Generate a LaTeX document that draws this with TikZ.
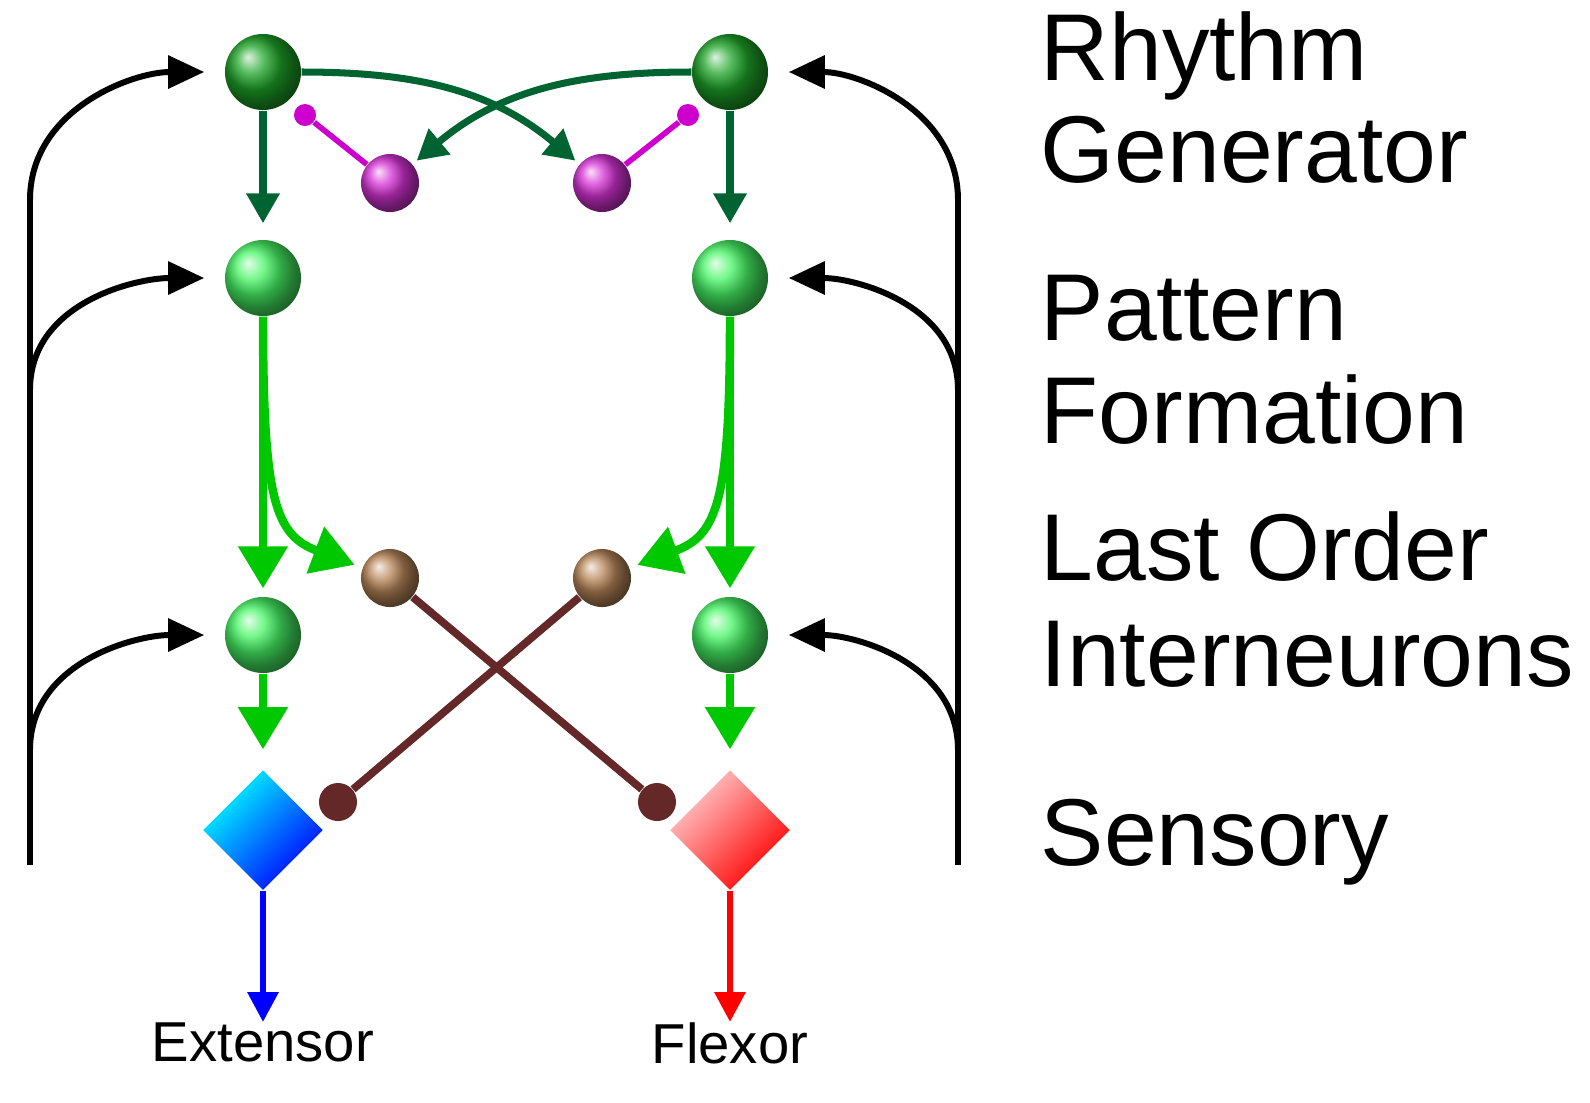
\documentclass[tikz,border=0pt]{standalone}
\usepackage{fontspec}
\setmainfont{Liberation Sans}
\usetikzlibrary{arrows.meta,shapes.geometric,positioning}
\definecolor{rgcol}{RGB}{30,165,40}
\definecolor{rgline}{RGB}{0,100,50}
\definecolor{pfcol}{RGB}{70,245,100}
\definecolor{pfline}{RGB}{0,200,0}
\definecolor{pucol}{RGB}{205,0,205}
\definecolor{brcol}{RGB}{185,135,90}
\definecolor{brline}{RGB}{100,40,40}
\begin{document}
\begin{tikzpicture}[x=0.01cm,y=0.01cm]
\tikzset{rg/.style={circle, ball color=rgcol, minimum size=0.76cm, inner sep=0},
  pf/.style={circle, ball color=pfcol, minimum size=0.76cm, inner sep=0},
  pu/.style={circle, ball color=pucol!80, minimum size=0.58cm, inner sep=0},
  br/.style={circle, ball color=brcol, minimum size=0.58cm, inner sep=0},
  pudot/.style={circle, fill=pucol, minimum size=0.22cm, inner sep=0},
  brdot/.style={circle, fill=brline, minimum size=0.38cm, inner sep=0},
  lab/.style={anchor=base west, font=\fontsize{27}{30}\selectfont, inner sep=0},
  dkarr/.style={draw=rgline, line width=2pt, -{Triangle[width=0.32cm,length=0.3cm]}},
  grarr/.style={draw=pfline, line width=2.4pt, -{Triangle[width=0.48cm,length=0.42cm]}},
  fbarr/.style={draw=black, line width=1.7pt, -{Triangle[width=0.32cm,length=0.36cm]}}}
\useasboundingbox (0,-1102) rectangle (1590,0);
% neurons
\node[rg](rgL) at (263,-72) {};
\node[rg](rgR) at (730,-72) {};
\node[pu](puL) at (390,-183) {};
\node[pu](puR) at (602,-183) {};
\node[pudot](pdL) at (305,-115) {};
\node[pudot](pdR) at (688,-115) {};
\node[pf](pfL) at (263,-278) {};
\node[pf](pfR) at (730,-278) {};
\node[pf](loL) at (263,-635) {};
\node[pf](loR) at (730,-635) {};
\node[br](brL) at (390,-578) {};
\node[br](brR) at (602,-578) {};
\node[brdot](bdL) at (338,-802) {};
\node[brdot](bdR) at (657,-802) {};
\node[diamond, minimum width=1.2cm, minimum height=1.2cm, inner sep=0,
  shading=axis, top color=cyan, bottom color=blue, shading angle=45](mE) at (263,-830) {};
\node[diamond, minimum width=1.2cm, minimum height=1.2cm, inner sep=0,
  shading=axis, top color=red!20, bottom color=red, shading angle=45](mF) at (730,-830) {};
\node[font=\fontsize{16}{18}\selectfont, anchor=north, inner sep=0](exL) at (263,-1022) {Extensor};
\node[font=\fontsize{16}{18}\selectfont, anchor=north, inner sep=0](flL) at (730,-1022) {Flexor};
% labels
\node[lab] at (1040,-80) {Rhythm};
\node[lab] at (1040,-182) {Generator};
\node[lab] at (1040,-340) {Pattern};
\node[lab] at (1040,-443) {Formation};
\node[lab] at (1040,-580) {Last Order};
\node[lab] at (1040,-686) {Interneurons};
\node[lab] at (1040,-865) {Sensory};
% inhibitory links
\draw[pucol, line width=1.6pt] (pdL) -- (puL);
\draw[pucol, line width=1.6pt] (pdR) -- (puR);
\draw[brline, line width=2.2pt] (brL) -- (bdR);
\draw[brline, line width=2.2pt] (brR) -- (bdL);
% excitatory
\draw[dkarr, shorten >=0.16cm] (rgL) -- (pfL);
\draw[dkarr, shorten >=0.16cm] (rgR) -- (pfR);
\draw[dkarr, shorten >=0.05cm] (rgL.east) to[out=0,in=140] (puR);
\draw[dkarr, shorten >=0.05cm] (rgR.west) to[out=180,in=40] (puL);
\draw[grarr, shorten >=0.08cm] (pfL) -- (loL);
\draw[grarr, shorten >=0.08cm] (pfR) -- (loR);
\draw[grarr, shorten >=0.08cm] (pfL.south) .. controls (263,-500) and (275,-535) .. (brL);
\draw[grarr, shorten >=0.08cm] (pfR.south) .. controls (730,-500) and (718,-535) .. (brR);
\draw[grarr, shorten >=0.2cm] (loL) -- (mE);
\draw[grarr, shorten >=0.2cm] (loR) -- (mF);
\draw[blue, line width=1.8pt, -{Triangle[width=0.3cm,length=0.3cm]}] (mE) -- (exL);
\draw[red, line width=1.8pt, -{Triangle[width=0.3cm,length=0.3cm]}] (mF) -- (flL);
% sensory feedback
\coordinate (fbL) at (30,-865);
\coordinate (fbR) at (958,-865);
\draw[line width=1.7pt] (fbL) -- (30,-200);
\draw[line width=1.7pt] (fbR) -- (958,-200);
\draw[fbarr, shorten >=0.2cm] (30,-200) to[out=90,in=180] (rgL);
\draw[fbarr, shorten >=0.2cm] (30,-390) to[out=90,in=180] (pfL);
\draw[fbarr, shorten >=0.2cm] (30,-750) to[out=90,in=180] (loL);
\draw[fbarr, shorten >=0.2cm] (958,-200) to[out=90,in=0] (rgR);
\draw[fbarr, shorten >=0.2cm] (958,-390) to[out=90,in=0] (pfR);
\draw[fbarr, shorten >=0.2cm] (958,-750) to[out=90,in=0] (loR);
\end{tikzpicture}
\end{document}
